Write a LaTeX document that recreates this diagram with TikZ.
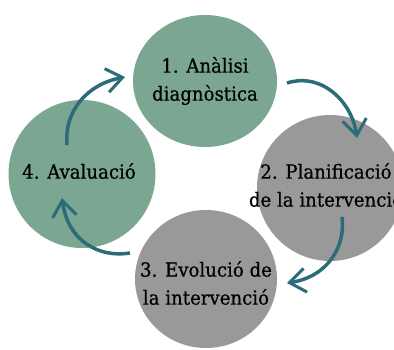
\documentclass[tikz,border=0pt]{standalone}
\usepackage{fontspec}
\setmainfont{DejaVu Serif}[FakeStretch=0.93,FakeBold=0.6]
\usetikzlibrary{arrows.meta,shapes.geometric}
\definecolor{sage}{HTML}{7AA692}
\definecolor{stone}{HTML}{999999}
\definecolor{brush}{HTML}{2C6C78}

\begin{document}
\begin{tikzpicture}[x=1pt,y=-1pt]
\tikzset{blob/.style = {shape=ellipse,fill=#1,inner sep=0pt}}
\tikzset{txt/.style = {align=center,font=\fontsize{19.5}{28}\selectfont}}
\tikzset{edge/.style = {draw=brush,line width=3.5pt,-{Straight Barb[length=16pt,width=24pt,line width=3pt]}}}
\clip (0,0) rectangle (394,349);
\node[blob=sage,minimum width=144pt,minimum height=132pt,label={[txt]center:1. Anàlisi\\diagnòstica}] (a) at (205,81) {};
\node[blob=stone,minimum width=146pt,minimum height=146pt,label={[txt,xshift=-4pt,yshift=3pt]center:2. Planificació\\de la intervenció}] (p) at (330,188) {};
\node[blob=stone,minimum width=142pt,minimum height=138pt,label={[txt,yshift=-4pt]center:3. Evolució de\\la intervenció}] (e) at (206,279) {};
\node[blob=sage,minimum width=147pt,minimum height=148pt,label={[txt,xshift=-3pt,yshift=3pt]center:4. Avaluació}] (v) at (82,174) {};

% arrow ends
\coordinate (a1) at (287,83);
\coordinate (p0) at (357,138);
\coordinate (p1) at (342,217);
\coordinate (e0) at (287,283);
\coordinate (e1) at (130,253);
\coordinate (v0) at (62,198);
\coordinate (v1) at (67,145);
\coordinate (a0) at (125,77);

\draw[edge] (a1) .. controls (322,72) and (352,102) .. (p0);
\draw[edge] (p1) .. controls (346,247) and (327,277) .. (e0);
\draw[edge] (e1) .. controls (100,258) and (68,242) .. (v0);
\draw[edge] (v1) .. controls (64,110) and (88,84) .. (a0);
\end{tikzpicture}
\end{document}
